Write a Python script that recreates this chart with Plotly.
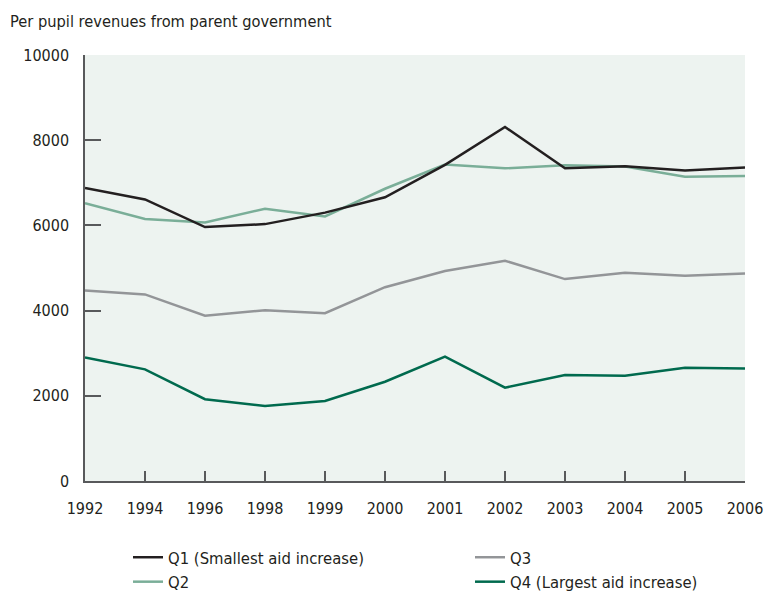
import plotly.graph_objects as go

years = ["1992", "1994", "1996", "1998", "1999", "2000", "2001", "2002", "2003", "2004", "2005", "2006"]
q1 = [6880, 6610, 5960, 6030, 6300, 6660, 7420, 8310, 7340, 7390, 7290, 7360]
q2 = [6520, 6150, 6070, 6390, 6210, 6860, 7430, 7340, 7410, 7380, 7140, 7160]
q3 = [4470, 4380, 3880, 4010, 3940, 4550, 4930, 5170, 4740, 4890, 4820, 4870]
q4 = [2900, 2620, 1920, 1760, 1880, 2330, 2920, 2190, 2490, 2470, 2660, 2640]
yticks = [0, 2000, 4000, 6000, 8000, 10000]
ytick_text = ["0", "2000", "4000", "6000", "8000", "10000"]

FONT = "DejaVu Sans Condensed, Liberation Sans Narrow, Arial Narrow, sans-serif"
TXT = "#231f20"

# page has an 8px body margin, so the figure is sized to fit the 774x594 window
W, H = 766, 586

fig = go.Figure()
fig.add_trace(go.Scatter(x=years, y=q4, mode="lines", name="Q4 (Largest aid increase)",
                         line=dict(color="#006a4e", width=2.5), legend="legend2", legendrank=2))
fig.add_trace(go.Scatter(x=years, y=q3, mode="lines", name="Q3",
                         line=dict(color="#939598", width=2.5), legend="legend2", legendrank=1))
fig.add_trace(go.Scatter(x=years, y=q2, mode="lines", name="Q2",
                         line=dict(color="#7aae98", width=2.5), legend="legend", legendrank=2))
fig.add_trace(go.Scatter(x=years, y=q1, mode="lines", name="Q1 (Smallest aid increase)",
                         line=dict(color="#231f20", width=2.5), legend="legend", legendrank=1))

leg_common = dict(orientation="v", yanchor="top", xanchor="left",
                  xref="container", yref="container",
                  font=dict(family=FONT, size=16.5, color=TXT), tracegroupgap=0,
                  itemwidth=30, bgcolor="rgba(0,0,0,0)", traceorder="normal")

fig.update_layout(
    width=W, height=H,
    margin=dict(l=77, r=29, t=47, b=113, autoexpand=False),
    paper_bgcolor="white",
    plot_bgcolor="#edf3f0",
    font=dict(family=FONT, size=16, color=TXT),
    title=dict(text="Per pupil revenues from parent government", x=2/W, xanchor="left",
               xref="container", yref="container", y=1 - 13/H, yanchor="middle",
               font=dict(family=FONT, size=16.3, color=TXT)),
    xaxis=dict(type="category", range=[0, 11], showgrid=False, zeroline=False,
               showline=True, linecolor="#58595b", linewidth=1.5, automargin=False,
               ticks="inside", ticklen=10, tickcolor="#58595b", tickwidth=1.5,
               tickfont=dict(family=FONT, size=16, color=TXT), ticklabelstandoff=12),
    yaxis=dict(range=[0, 10000], tickvals=yticks, ticktext=ytick_text,
               showgrid=False, zeroline=False, automargin=False,
               showline=True, linecolor="#58595b", linewidth=1.5,
               ticks="inside", ticklen=16, tickcolor="#58595b", tickwidth=1.5,
               tickfont=dict(family=FONT, size=16, color=TXT), ticklabelstandoff=11),
    legend=dict(x=120/W, y=1 - 532/H, **leg_common),
    legend2=dict(x=462/W, y=1 - 532/H, **leg_common),
)

fig.write_html("out.html")
